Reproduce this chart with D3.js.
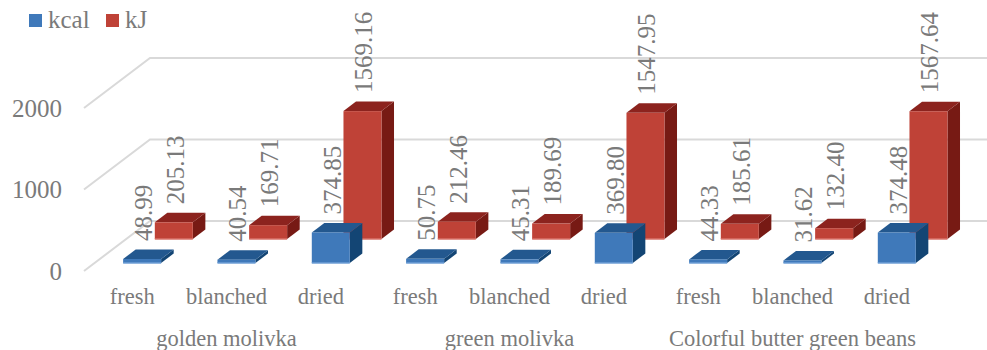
<!DOCTYPE html>
<html>
<head>
<meta charset="utf-8">
<script src="https://cdn.jsdelivr.net/npm/d3@7"></script>
<style>
html,body{margin:0;padding:0;background:#fff}
svg{display:block}
text{font-family:"Liberation Serif",serif;fill:#7a7a7a}
</style>
</head>
<body>
<svg id="chart" width="987" height="350"></svg>
<script>
const categories = ["fresh","blanched","dried","fresh","blanched","dried","fresh","blanched","dried"];
const groups = ["golden molivka","green molivka","Colorful butter green beans"];
const kcal = [48.99,40.54,374.85,50.75,45.31,369.80,44.33,31.62,374.48];
const kJ = [205.13,169.71,1569.16,212.46,189.69,1547.95,185.61,132.40,1567.64];
const yTicks = [0,1000,2000];
const seriesNames = ["kcal","kJ"];
const seriesValues = [kcal,kJ];
const palette = {
  kcal:{front:"#3f79ba",top:"#23588f",side:"#134574",edge:"#6f9fd6"},
  kJ:{front:"#bf4237",top:"#8c231e",side:"#771a14",edge:"#d9736a"}
};

const svg = d3.select("#chart");
const y = d3.scaleLinear().domain([0,2000]).range([271,108]);
const x = d3.scaleBand().domain(d3.range(categories.length)).range([85,934]);
const depth = d3.scaleLinear().domain([0,1]).range([0,1]);
// Oblique projection of the floor depth: 0 is the front edge, 1 the back wall.
const px = z => 66*depth(z), py = z => -50*depth(z);
const slot = {kcal:0.16,kJ:0.64};
const barWidth = 38, barDepth = 0.19;
const barLeft = i => x(i) + x.bandwidth()/2 - 19.6;

// Wall and side gridlines
yTicks.forEach(t=>{
  svg.append("polyline")
    .attr("points",[[84,y(t)],[84+px(1),y(t)+py(1)],[987,y(t)+py(1)]].map(p=>p.join(",")).join(" "))
    .attr("fill","none").attr("stroke","#d9d9d9").attr("stroke-width",2);
});

// Value axis labels
const axis = d3.axisLeft(y).tickValues(yTicks).tickSize(0).tickPadding(0).tickFormat(d3.format("d"));
const axisG = svg.append("g").attr("transform","translate(62,0)").call(axis);
axisG.select(".domain").remove();
axisG.selectAll("text").attr("font-size",25).attr("font-family","Liberation Serif").attr("fill","#7a7a7a");

// Bars: rear series first so the front one overlaps it
seriesNames.slice().reverse().forEach(name=>{
  const vals = seriesValues[seriesNames.indexOf(name)];
  const c = palette[name], z0 = slot[name], z1 = z0+barDepth;
  const g = svg.append("g");
  vals.forEach((v,i)=>{
    const l = barLeft(i)+px(z0), r = l+barWidth;
    const b = y(0)+py(z0), t = y(v)+py(z0);
    const dx = px(z1)-px(z0), dy = py(z1)-py(z0);
    g.append("path").attr("fill",c.side)
      .attr("d",`M${r},${b}L${r+dx},${b+dy}L${r+dx},${t+dy}L${r},${t}Z`);
    g.append("path").attr("fill",c.top)
      .attr("d",`M${l},${t}L${l+dx},${t+dy}L${r+dx},${t+dy}L${r},${t}Z`);
    g.append("rect").attr("x",l).attr("y",t).attr("width",barWidth).attr("height",b-t)
      .attr("fill",c.front);
    g.append("line").attr("x1",l).attr("x2",r).attr("y1",b).attr("y2",b)
      .attr("stroke",c.edge).attr("stroke-width",1.5);
  });
});

// Rotated value labels above each bar
seriesNames.forEach((name,si)=>{
  seriesValues[si].forEach((v,i)=>{
    const lx = barLeft(i)+px(slot[name])+barWidth/2+1;
    const ly = y(v)+py(slot[name])-18;
    svg.append("text").attr("transform",`translate(${lx},${ly}) rotate(-90)`)
      .attr("dy","0.35em").attr("font-size",25).text(d3.format(".2f")(v));
  });
});

// Category and group labels
categories.forEach((c,i)=>{
  svg.append("text").attr("x",x(i)+x.bandwidth()/2).attr("y",304)
    .attr("text-anchor","middle").attr("font-size",22.5).text(c);
});
groups.forEach((g,i)=>{
  const cx = x(i*3+1)+x.bandwidth()/2;
  svg.append("text").attr("x",cx).attr("y",345.5)
    .attr("text-anchor","middle").attr("font-size",22.5).text(g);
});

// Legend
const legendX = [29,106];
seriesNames.forEach((name,i)=>{
  svg.append("rect").attr("x",legendX[i]).attr("y",14).attr("width",13).attr("height",13)
    .attr("fill",palette[name].front);
  svg.append("text").attr("x",legendX[i]+19).attr("y",28).attr("font-size",25).text(name);
});
</script>
</body>
</html>
